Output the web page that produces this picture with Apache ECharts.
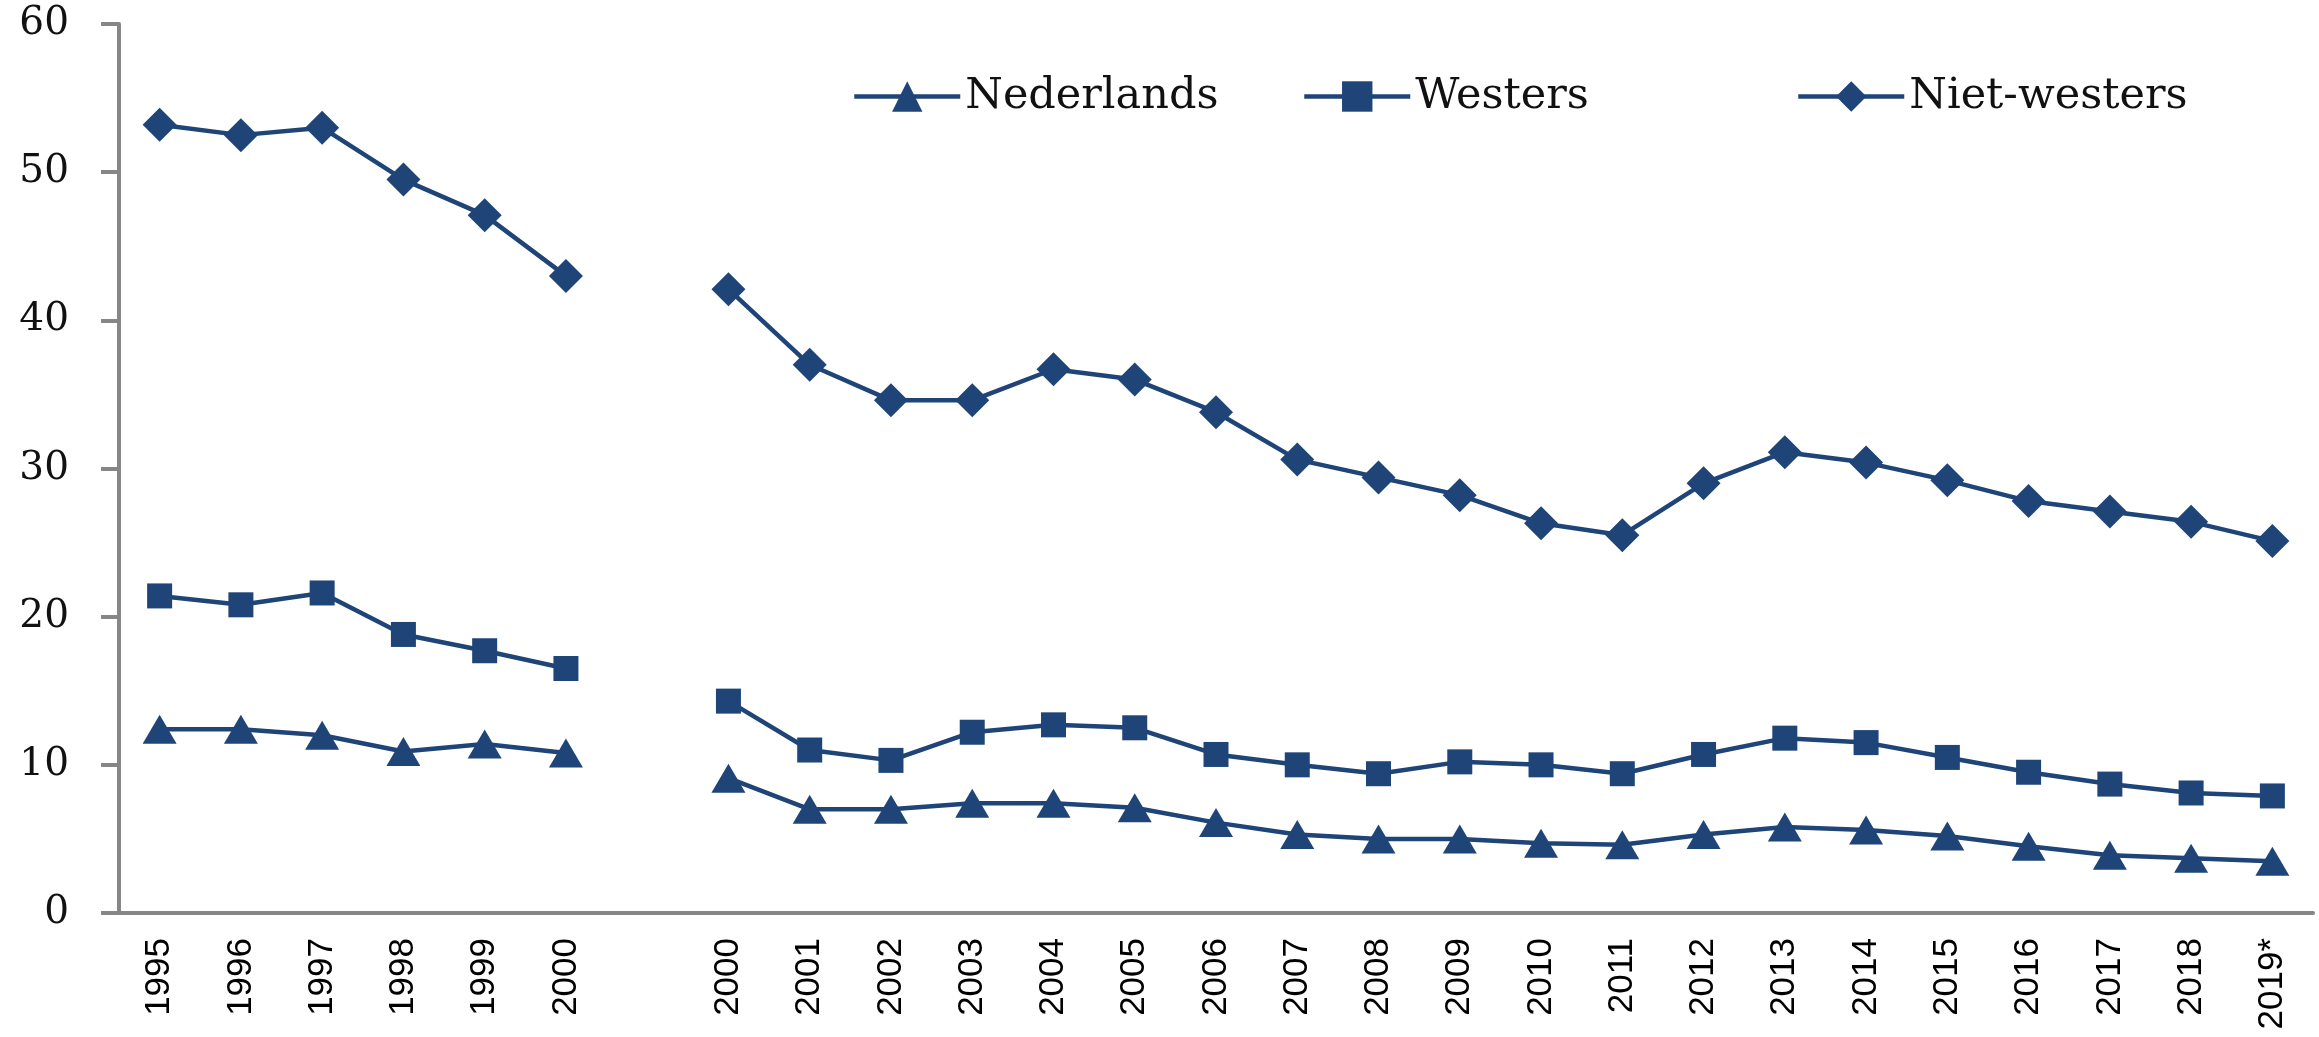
<!DOCTYPE html>
<html>
<head>
<meta charset="utf-8">
<script src="https://cdn.jsdelivr.net/npm/echarts@6/dist/echarts.min.js"></script>
<style>
html,body{margin:0;padding:0;background:#fff;}
#chart{width:2319px;height:1037px;}
</style>
</head>
<body>
<div id="chart"></div>
<script>
const categories = ['1995','1996','1997','1998','1999','2000','','2000','2001','2002','2003','2004','2005','2006','2007','2008','2009','2010','2011','2012','2013','2014','2015','2016','2017','2018','2019*'];
const nederlands = [12.4,12.4,12.0,10.9,11.4,10.8,null,9.1,7.0,7.0,7.4,7.4,7.1,6.1,5.3,5.0,5.0,4.7,4.6,5.3,5.8,5.6,5.2,4.5,3.9,3.7,3.5];
const westers = [21.4,20.8,21.6,18.8,17.7,16.5,null,14.3,11.0,10.3,12.2,12.7,12.5,10.7,10.0,9.4,10.2,10.0,9.4,10.7,11.8,11.5,10.5,9.5,8.7,8.1,7.9];
const nietWesters = [53.2,52.5,53.0,49.5,47.1,43.0,null,42.1,37.0,34.6,34.6,36.7,36.0,33.8,30.6,29.4,28.2,26.3,25.5,29.0,31.1,30.4,29.2,27.8,27.1,26.4,25.1];
const yTicks = [0,10,20,30,40,50,60];

const COLOR = '#1E4478';
const AXIS = '#868686';
const chart = echarts.init(document.getElementById('chart'), null, {renderer:'canvas'});

function lineSeries(name, data, symbol, size){
  return {
    name, type:'line', data, symbol, symbolSize:size,
    connectNulls:false,
    lineStyle:{color:COLOR,width:4.5},
    itemStyle:{color:COLOR},
    animation:false
  };
}
function legendAt(name, left){
  return {
    data:[name], left, top:70, itemWidth:106, itemHeight:38, itemGap:0,
    lineStyle:{width:4.5, color:COLOR},
    textStyle:{fontFamily:'DejaVu Serif', fontSize:43, color:'#111', padding:[0,0,0,0]}
  };
}

chart.setOption({
  backgroundColor:'#fff',
  animation:false,
  grid:{left:119, right:6, top:24, bottom:124, containLabel:false},
  legend:[legendAt('Nederlands',847), legendAt('Westers',1297), legendAt('Niet-westers',1791)],
  xAxis:{
    type:'category', data:categories, boundaryGap:true,
    axisLine:{lineStyle:{color:AXIS,width:4}},
    axisTick:{show:false},
    axisLabel:{rotate:90, margin:25, interval:0, fontFamily:'Liberation Sans', fontSize:35, color:'#000'}
  },
  yAxis:{
    type:'value', min:yTicks[0], max:yTicks[yTicks.length-1], interval:10,
    axisLine:{show:true, lineStyle:{color:AXIS,width:4}},
    axisTick:{show:true, length:18, lineStyle:{color:AXIS,width:4}},
    splitLine:{show:false},
    axisLabel:{margin:50, fontFamily:'DejaVu Serif', fontSize:39, color:'#111'}
  },
  series:[
    lineSeries('Nederlands', nederlands, 'triangle', [34,29]),
    lineSeries('Westers', westers, 'rect', 25),
    lineSeries('Niet-westers', nietWesters, 'diamond', [34,34])
  ]
});
</script>
</body>
</html>
